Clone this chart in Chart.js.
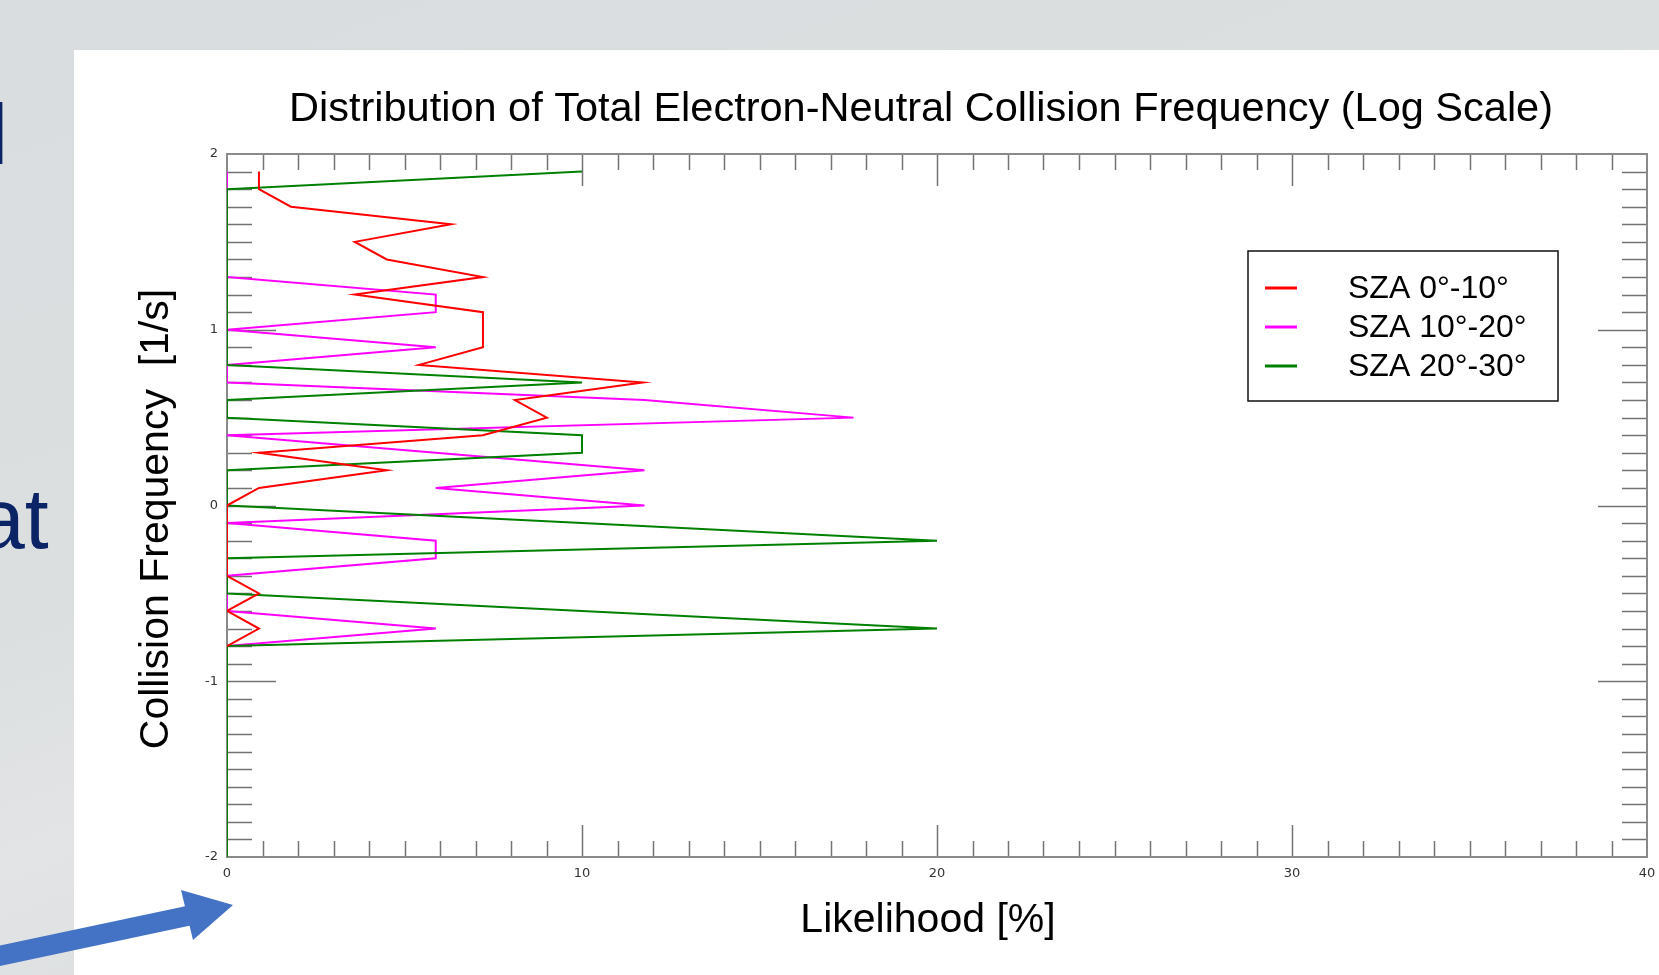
<!DOCTYPE html>
<html>
<head>
<meta charset="utf-8">
<script src="https://cdn.jsdelivr.net/npm/chart.js@4/dist/chart.umd.min.js"></script>
<style>
  html, body { margin: 0; padding: 0; }
  body {
    width: 1659px; height: 975px; overflow: hidden; position: relative;
    background: linear-gradient(160deg, #dadddf 0%, #dcdfe0 40%, #e2e4e5 55%, #dbdee0 70%, #dadddf 100%);
    font-family: "Liberation Sans", Arial, sans-serif;
  }
  #panel { position: absolute; left: 74px; top: 50px; width: 1585px; height: 925px; background: #ffffff; }
  #chart { position: absolute; left: 74px; top: 50px; }
  .slideText { position: absolute; color: #0b2466; font-size: 86px; line-height: 86px; white-space: nowrap; }
  #arrow { position: absolute; left: 0; top: 0; }
</style>
</head>
<body>
<div class="slideText" style="left:-11px; top:91px;">l</div>
<div class="slideText" style="left:-23px; top:475px;">at</div>
<div id="panel"></div>
<canvas id="chart" width="1585" height="925"></canvas>
<svg id="arrow" width="1659" height="975">
  <line x1="-20" y1="960" x2="192" y2="915" stroke="#4472c4" stroke-width="20"/>
  <polygon points="181,890 193,940 233,905" fill="#4472c4"/>
</svg>
<script>
// log10 of collision frequency for each histogram bin
const logFreqBins = [1.9, 1.8, 1.7, 1.6, 1.5, 1.4, 1.3, 1.2, 1.1, 1.0,
                     0.9, 0.8, 0.7, 0.6, 0.5, 0.4, 0.3, 0.2, 0.1, 0.0,
                     -0.1, -0.2, -0.3, -0.4, -0.5, -0.6, -0.7, -0.8, -0.9, -1.0,
                     -1.1, -1.2, -1.3, -1.4, -1.5, -1.6, -1.7, -1.8, -1.9, -2.0];

// likelihood [%] per bin, one list per solar zenith angle range
const sza0to10 = [0.90, 0.90, 1.80, 6.31, 3.60, 4.50, 7.21, 3.60, 7.21, 7.21,
                  7.21, 5.41, 11.71, 8.11, 9.01, 7.21, 0.90, 4.50, 0.90, 0,
                  0, 0, 0, 0, 0.90, 0, 0.90, 0, null, null,
                  null, null, null, null, null, null, null, null, null, null];
const sza10to20 = [0, 0, 0, 0, 0, 0, 0, 5.88, 5.88, 0,
                   5.88, 0, 0, 11.76, 17.65, 0, 5.88, 11.76, 5.88, 11.76,
                   0, 5.88, 5.88, 0, 0, 0, 5.88, 0, 0, 0,
                   0, 0, 0, 0, 0, 0, 0, 0, 0, 0];
const sza20to30 = [10, 0, 0, 0, 0, 0, 0, 0, 0, 0,
                   0, 0, 10, 0, 0, 10, 10, 0, 0, 0,
                   10, 20, 0, 0, 0, 10, 20, 0, 0, 0,
                   0, 0, 0, 0, 0, 0, 0, 0, 0, 0];

const seriesLabels = ['SZA 0°-10°', 'SZA 10°-20°', 'SZA 20°-30°'];
const xTickValues = [0, 10, 20, 30, 40];
const yTickValues = [-2, -1, 0, 1, 2];

const chartTitle = 'Distribution of Total Electron-Neutral Collision Frequency (Log Scale)';
const xTitle = 'Likelihood [%]';
const yTitle = 'Collision Frequency  [1/s]';

function toPoints(values) {
  const pts = [];
  values.forEach((v, i) => { if (v !== null) pts.push({ x: v, y: logFreqBins[i] }); });
  return pts;
}

// Boxed plot frame with inward tick marks on all four sides
const framePlugin = {
  id: 'frame',
  beforeDatasetsDraw(chart) {
    const { ctx, chartArea: a, scales: { x, y } } = chart;
    ctx.save();
    ctx.strokeStyle = '#737373';
    ctx.lineWidth = 1.5;
    ctx.beginPath();
    for (let v = 1; v < 40; v++) {
      const px = Math.round(x.getPixelForValue(v)) + 0.5;
      const len = (v % 10 === 0) ? 32 : 16;
      ctx.moveTo(px, a.top); ctx.lineTo(px, a.top + len);
      ctx.moveTo(px, a.bottom); ctx.lineTo(px, a.bottom - len);
    }
    for (let k = -19; k < 20; k++) {
      const py = Math.round(y.getPixelForValue(k / 10)) + 0.5;
      const len = (k % 10 === 0) ? 49 : 25;
      ctx.moveTo(a.left, py); ctx.lineTo(a.left + len, py);
      ctx.moveTo(a.right, py); ctx.lineTo(a.right - len, py);
    }
    ctx.stroke();
    ctx.strokeStyle = '#8a8a8a';
    ctx.lineWidth = 2;
    ctx.strokeRect(a.left, a.top, a.right - a.left, a.bottom - a.top);
    ctx.restore();
  },
  afterDraw(chart) {
    const { ctx } = chart;
    ctx.save();
    ctx.fillStyle = '#000';
    ctx.textAlign = 'center';
    ctx.textBaseline = 'middle';
    ctx.font = '41.5px "Liberation Sans", Arial, sans-serif';
    ctx.fillText(chartTitle, 847, 60);
    ctx.font = '41px "Liberation Sans", Arial, sans-serif';
    ctx.fillText(xTitle, 854, 871);
    ctx.translate(83, 469);
    ctx.rotate(-Math.PI / 2);
    ctx.fillText(yTitle, 0, 0);
    ctx.restore();

    // legend box
    ctx.save();
    const bx = 1174, by = 201, bw = 310, bh = 150;
    ctx.fillStyle = '#fff';
    ctx.fillRect(bx, by, bw, bh);
    ctx.strokeStyle = '#111';
    ctx.lineWidth = 1.5;
    ctx.strokeRect(bx, by, bw, bh);
    ctx.font = '32px "Liberation Sans", Arial, sans-serif';
    ctx.textAlign = 'left';
    ctx.textBaseline = 'middle';
    chart.data.datasets.forEach((ds, i) => {
      const ly = by + 37 + i * 39;
      ctx.strokeStyle = ds.borderColor;
      ctx.lineWidth = 3;
      ctx.beginPath();
      ctx.moveTo(bx + 17, ly); ctx.lineTo(bx + 49, ly);
      ctx.stroke();
      ctx.fillStyle = '#000';
      ctx.fillText(ds.label, bx + 100, ly + 1);
    });
    ctx.restore();
  }
};

new Chart(document.getElementById('chart'), {
  type: 'scatter',
  data: {
    datasets: [
      { label: seriesLabels[0], data: toPoints(sza0to10), borderColor: '#ff0000', order: 0 },
      { label: seriesLabels[1], data: toPoints(sza10to20), borderColor: '#ff00ff', order: 2 },
      { label: seriesLabels[2], data: toPoints(sza20to30), borderColor: '#008000', order: 1 }
    ].map(ds => Object.assign(ds, { showLine: true, borderWidth: 2, pointRadius: 0, tension: 0, fill: false }))
  },
  options: {
    responsive: false,
    animation: false,
    devicePixelRatio: 1,
    layout: { padding: { top: 104, right: 12, left: 0, bottom: 0 } },
    plugins: { legend: { display: false }, tooltip: { enabled: false }, title: { display: false } },
    scales: {
      x: {
        type: 'linear', min: 0, max: 40,
        grid: { display: false }, border: { display: false },
        afterBuildTicks: s => { s.ticks = xTickValues.map(v => ({ value: v })); },
        ticks: { color: '#333', padding: 1, font: { family: 'DejaVu Sans', size: 13 } },
        afterFit: s => { s.height = 118; }
      },
      y: {
        type: 'linear', min: -2, max: 2,
        grid: { display: false }, border: { display: false },
        afterBuildTicks: s => { s.ticks = yTickValues.map(v => ({ value: v })); },
        ticks: { color: '#333', padding: 1, font: { family: 'DejaVu Sans', size: 13 } },
        afterFit: s => { s.width = 153; }
      }
    }
  },
  plugins: [framePlugin]
});
</script>
</body>
</html>
